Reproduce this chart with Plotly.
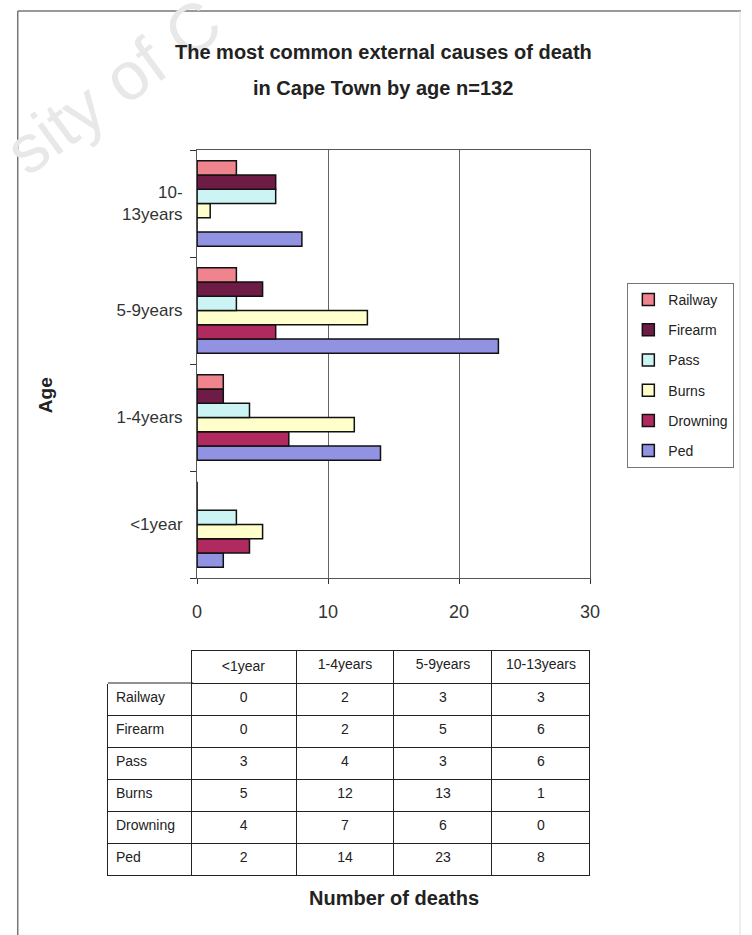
import plotly.graph_objects as go

# Age groups (bottom to top on the chart) and deaths per external cause
ages = ["<1year", "1-4years", "5-9years", "10-13years"]
age_tick_text = ["<1year", "1-4years", "5-9years", "10-<br>13years"]

railway = [0, 2, 3, 3]
firearm = [0, 2, 5, 6]
passenger = [3, 4, 3, 6]
burns = [5, 12, 13, 1]
drowning = [4, 7, 6, 0]
ped = [2, 14, 23, 8]

x_ticks = [0, 10, 20, 30]

W, H = 752, 935
FONT = "Arial, Liberation Sans, sans-serif"

# series in plotting order (first trace sits at the bottom of each group);
# the last number is the position in the legend
series = [
    ("Ped", ped, "#9292E2", 6),
    ("Drowning", drowning, "#B02A60", 5),
    ("Burns", burns, "#FFFFCC", 4),
    ("Pass", passenger, "#CCF4F4", 3),
    ("Firearm", firearm, "#6E1C46", 2),
    ("Railway", railway, "#F0848E", 1),
]


def px_x(v):
    return v / W


def px_y(v):
    return 1 - v / H


fig = go.Figure()

for name, vals, color, rank in series:
    fig.add_trace(go.Bar(
        y=ages, x=vals, name=name, orientation="h",
        legendgroup=name, legendrank=rank,
        marker=dict(color=color, line=dict(color="#111111", width=1.5)),
        hoverinfo="x+name",
    ))

# data table under the chart
table_labels = ["Railway", "Firearm", "Pass", "Burns", "Drowning", "Ped"]
table_series = [railway, firearm, passenger, burns, drowning, ped]
columns = [table_labels] + [[str(s[i]) for s in table_series] for i in range(len(ages))]

fig.add_trace(go.Table(
    domain=dict(x=[px_x(105), px_x(597)], y=[px_y(880), px_y(650)]),
    columnwidth=[85, 107, 100, 100, 100],
    header=dict(
        values=[""] + ages,
        height=33,
        align=["left", "center", "center", "center", "center"],
        fill=dict(color="white"),
        line=dict(color=["white", "#222222", "#222222", "#222222", "#222222"], width=1),
        font=dict(family=FONT, size=14, color="#222222"),
    ),
    cells=dict(
        values=columns,
        height=32,
        align=["left", "center", "center", "center", "center"],
        fill=dict(color="white"),
        line=dict(color="#222222", width=1),
        font=dict(family=FONT, size=14, color="#222222"),
    ),
))

annotations = [
    dict(text="sity of C", x=px_x(110), y=px_y(86), xref="paper", yref="paper",
         xanchor="center", yanchor="middle",
         showarrow=False, textangle=-36,
         font=dict(family=FONT, size=68, color="#e8e8e8")),
    dict(text="<b>The most common external causes of death</b>", x=px_x(386), y=px_y(52),
         xref="paper", yref="paper", xanchor="center", yanchor="middle", showarrow=False,
         font=dict(family=FONT, size=20, color="#222222")),
    dict(text="<b>in Cape Town by age n=132</b>", x=px_x(386), y=px_y(88),
         xref="paper", yref="paper", xanchor="center", yanchor="middle", showarrow=False,
         font=dict(family=FONT, size=20, color="#222222")),
    dict(text="<b>Age</b>", x=px_x(41), y=px_y(395), xref="paper", yref="paper",
         xanchor="center", yanchor="middle", showarrow=False, textangle=-90,
         font=dict(family=FONT, size=19, color="#222222")),
    dict(text="<b>Number of deaths</b>", x=px_x(397), y=px_y(898),
         xref="paper", yref="paper", xanchor="center", yanchor="middle", showarrow=False,
         font=dict(family=FONT, size=20, color="#222222")),
]

shapes = [
    # outer chart frame
    dict(type="line", xref="paper", yref="paper", x0=px_x(13), x1=px_x(13),
         y0=px_y(11), y1=-0.01, line=dict(color="#777777", width=1.5)),
    dict(type="line", xref="paper", yref="paper", x0=px_x(13), x1=px_x(751),
         y0=px_y(11), y1=px_y(11), line=dict(color="#777777", width=1.5)),
    dict(type="line", xref="paper", yref="paper", x0=px_x(750), x1=px_x(750),
         y0=px_y(11), y1=-0.01, line=dict(color="#dddddd", width=1)),
    # top edge of the row-label column of the table
    dict(type="line", xref="paper", yref="paper", x0=px_x(105), x1=px_x(192),
         y0=px_y(683), y1=px_y(683), line=dict(color="#222222", width=1)),
]

fig.update_layout(
    width=W, height=H,
    margin=dict(l=0, r=0, t=0, b=0),
    paper_bgcolor="white",
    plot_bgcolor="white",
    barmode="group",
    bargap=0.2,
    bargroupgap=0,
    font=dict(family=FONT, color="#333333"),
    showlegend=True,
    legend=dict(
        x=px_x(635), y=px_y(283), xanchor="left", yanchor="top",
        traceorder="grouped", tracegroupgap=9,
        bordercolor="#777777", borderwidth=1, bgcolor="white",
        font=dict(family=FONT, size=14, color="#222222"),
        itemwidth=30,
    ),
    xaxis=dict(
        domain=[px_x(196), px_x(597)],
        range=[0, 30], tickvals=x_ticks,
        showgrid=True, gridcolor="#666666", gridwidth=1,
        zeroline=False,
        showline=True, linecolor="#555555", linewidth=1.2, mirror=True,
        ticks="outside", ticklen=5, tickcolor="#333333",
        ticklabelstandoff=12,
        tickfont=dict(family=FONT, size=18, color="#333333"),
        fixedrange=True,
    ),
    yaxis=dict(
        domain=[px_y(578), px_y(150)],
        categoryorder="array", categoryarray=ages,
        tickvals=ages, ticktext=age_tick_text,
        showgrid=False, zeroline=False,
        showline=True, linecolor="#555555", linewidth=1.2, mirror=True,
        ticks="outside", ticklen=6, tickcolor="#333333", tickson="boundaries",
        ticklabelstandoff=10,
        tickfont=dict(family=FONT, size=17, color="#333333"),
        fixedrange=True,
    ),
    annotations=annotations,
    shapes=shapes,
)

fig.write_html("out.html")
